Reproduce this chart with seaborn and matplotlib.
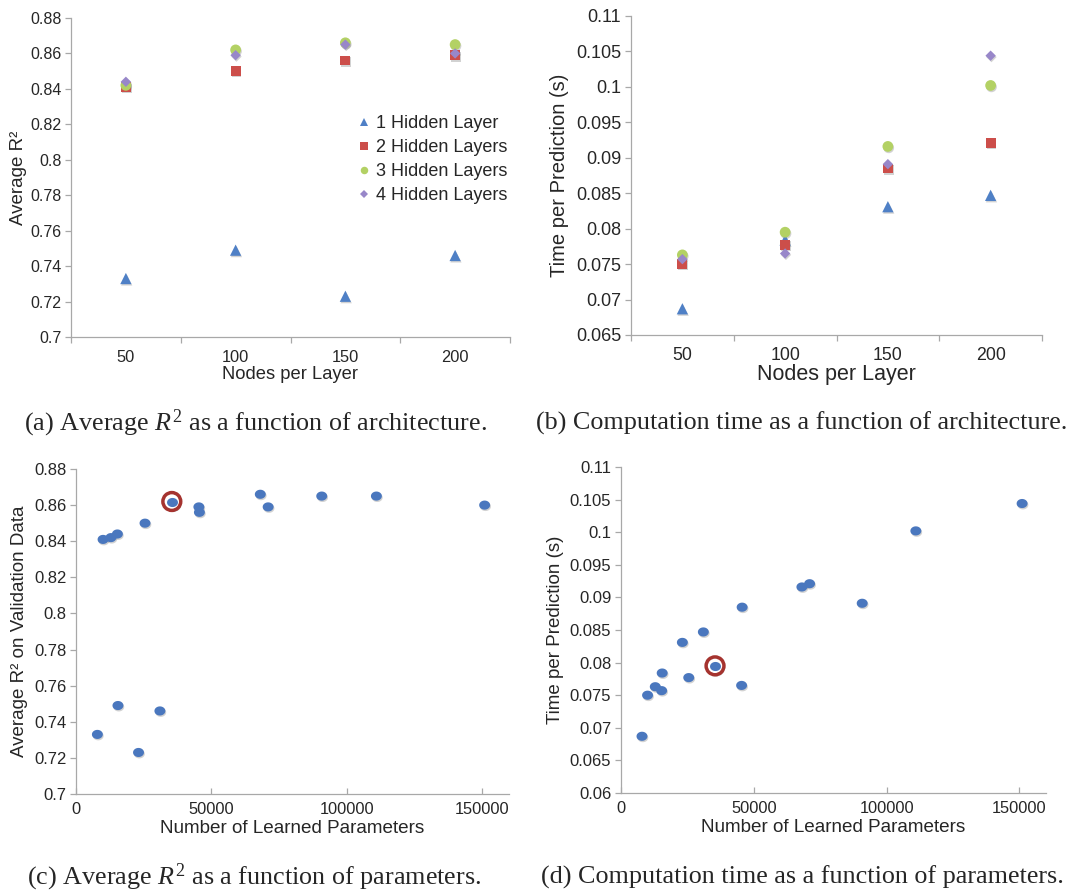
import numpy as np
import pandas as pd
import matplotlib
matplotlib.use("Agg")
import matplotlib.pyplot as plt
import matplotlib.patheffects as pe
from matplotlib.lines import Line2D
from matplotlib.path import Path
from matplotlib.ticker import FixedLocator, FuncFormatter
import seaborn as sns

# ---- data -------------------------------------------------------------
nodes = ["50", "100", "150", "200"]
layers = ["1 Hidden Layer", "2 Hidden Layers", "3 Hidden Layers", "4 Hidden Layers"]

r2_1 = [0.733, 0.749, 0.723, 0.746]
r2_2 = [0.841, 0.850, 0.856, 0.859]
r2_3 = [0.842, 0.862, 0.866, 0.865]
r2_4 = [0.844, 0.859, 0.865, 0.860]

time_1 = [0.0687, 0.0784, 0.0831, 0.0847]
time_2 = [0.0750, 0.0777, 0.0885, 0.0921]
time_3 = [0.0763, 0.0795, 0.0916, 0.1002]
time_4 = [0.0757, 0.0765, 0.0891, 0.1044]

params_1 = [7900, 15500, 23100, 31000]
params_2 = [10000, 25500, 45600, 71000]
params_3 = [12900, 35400, 68100, 111000]
params_4 = [15300, 45400, 90800, 151000]

# chosen architecture: 3 hidden layers, 100 nodes per layer
chosen_layers = "3 Hidden Layers"
chosen_nodes = "100"

r2_ticks = [0.70, 0.72, 0.74, 0.76, 0.78, 0.80, 0.82, 0.84, 0.86, 0.88]
time_ticks_b = [0.065, 0.07, 0.075, 0.08, 0.085, 0.09, 0.095, 0.1, 0.105, 0.11]
time_ticks_d = [0.06] + time_ticks_b
param_ticks = [0, 50000, 100000, 150000]

captions = [
    "(a) Average $R^2$ as a function of architecture.",
    "(b) Computation time as a function of architecture.",
    "(c) Average $R^2$ as a function of parameters.",
    "(d) Computation time as a function of parameters.",
]

# ---- long-form table --------------------------------------------------
rows = []
for lab, r2s, ts, ps in zip(layers, [r2_1, r2_2, r2_3, r2_4],
                            [time_1, time_2, time_3, time_4],
                            [params_1, params_2, params_3, params_4]):
    for n, r, t, p in zip(nodes, r2s, ts, ps):
        rows.append({"layers": lab, "nodes": n, "r2": r, "time": t, "params": p})
df = pd.DataFrame(rows)
df["chosen"] = (df["layers"] == chosen_layers) & (df["nodes"] == chosen_nodes)

# ---- style ------------------------------------------------------------
sns.set_style("white")
plt.rcParams["font.family"] = ["Liberation Sans", "DejaVu Sans"]
plt.rcParams["mathtext.fontset"] = "custom"
plt.rcParams["mathtext.rm"] = "Liberation Serif"
plt.rcParams["mathtext.it"] = "Liberation Serif:italic"
plt.rcParams["mathtext.bf"] = "Liberation Serif:bold"

palette = {layers[0]: "#4F80C6", layers[1]: "#CC4E4A",
           layers[2]: "#B3D164", layers[3]: "#9887C9"}
markers = {layers[0]: "^", layers[1]: "s", layers[2]: "o", layers[3]: "D"}
sizes = {layers[0]: 66, layers[1]: 50, layers[2]: 60, layers[3]: 28}
dot_color = "#4A77BE"
spine_color = "#A8A8A8"

W, H = 1068, 892
fig = plt.figure(figsize=(W / 100, H / 100), dpi=100)


def axes_px(left, right, top, bottom):
    return fig.add_axes([left / W, 1 - bottom / H, (right - left) / W, (bottom - top) / H])


shadow = [pe.SimplePatchShadow(offset=(0.6, -1.0), shadow_rgbFace="#808080", alpha=0.35),
          pe.Normal()]


def style_axes(ax, yticks, tick_size):
    for s in ["top", "right"]:
        ax.spines[s].set_visible(False)
    for s in ["left", "bottom"]:
        ax.spines[s].set_color(spine_color)
        ax.spines[s].set_linewidth(0.9)
    ax.set_ylim(yticks[0], yticks[-1])
    ax.yaxis.set_major_locator(FixedLocator(yticks))
    ax.yaxis.set_major_formatter(FuncFormatter(lambda v, p: f"{v:.3f}".rstrip("0").rstrip(".")))
    ax.tick_params(axis="y", which="major", direction="out", length=4, width=0.9,
                   color=spine_color, labelsize=tick_size, pad=3, left=True)
    ax.grid(False)


def categorical_x(ax, tick_size):
    ax.set_xlim(-0.5, len(nodes) - 0.5)
    ax.set_xticks(range(len(nodes)))
    ax.set_xticklabels(nodes)
    ax.set_xticks(np.arange(-0.5, len(nodes)), minor=True)
    ax.tick_params(axis="x", which="major", length=0, labelsize=tick_size, pad=9)
    ax.tick_params(axis="x", which="minor", direction="out", length=4, width=0.9,
                   color=spine_color, bottom=True)


# ---- (a) average R^2 vs nodes per layer -------------------------------
ax_a = axes_px(71, 510, 18, 337)
sns.scatterplot(data=df, x="nodes", y="r2", hue="layers", style="layers", size="layers",
                palette=palette, markers=markers, sizes=sizes, hue_order=layers,
                style_order=layers, size_order=layers, linewidth=0, legend=False, ax=ax_a)
for c in ax_a.collections:
    c.set_path_effects(shadow)
style_axes(ax_a, r2_ticks, 11.5)
categorical_x(ax_a, 11.8)
ax_a.set_xlabel("Nodes per Layer", fontsize=13.2, labelpad=1)
ax_a.set_ylabel("Average R²", fontsize=13.5, labelpad=2)

handles = [Line2D([], [], linestyle="none", marker=markers[l], color=palette[l],
                  markersize=(5.4 if markers[l] != "D" else 4.0), markeredgewidth=0)
           for l in layers]
ax_a.legend(handles, layers, loc="upper left", bbox_to_anchor=(0.655, 0.695),
            frameon=False, fontsize=13, handlelength=0.6, handletextpad=0.35,
            labelspacing=0.38, borderpad=0, borderaxespad=0)

# ---- (b) time vs nodes per layer ---------------------------------------
ax_b = axes_px(631, 1042, 16, 335)
sns.scatterplot(data=df, x="nodes", y="time", hue="layers", style="layers", size="layers",
                palette=palette, markers=markers, sizes=sizes, hue_order=layers,
                style_order=layers, size_order=layers, linewidth=0, legend=False, ax=ax_b)
for c in ax_b.collections:
    c.set_path_effects(shadow)
style_axes(ax_b, time_ticks_b, 13)
categorical_x(ax_b, 12.8)
ax_b.set_xlabel("Nodes per Layer", fontsize=15.5, labelpad=0)
ax_b.set_ylabel("Time per Prediction (s)", fontsize=14.5, labelpad=5)

# ---- slightly wide dot marker for the parameter plots --------------------
theta = np.linspace(0, 2 * np.pi, 60)
ellipse = Path(np.column_stack([1.2 * np.cos(theta), np.sin(theta)]), closed=True)


def param_panel(ax, ycol, yticks, ylabel):
    sns.scatterplot(data=df, x="params", y=ycol, color=dot_color, marker=ellipse, s=62,
                    linewidth=0, legend=False, ax=ax)
    pick = df[df["chosen"]]
    ring = ax.scatter(pick["params"], pick[ycol], s=165, facecolor="white",
                      edgecolor="#A5332F", linewidth=2.5, zorder=3)
    ring.set_path_effects([pe.SimplePatchShadow(offset=(0.8, -1.2), shadow_rgbFace="#606060",
                                                alpha=0.45), pe.Normal()])
    ax.scatter(pick["params"], pick[ycol], s=62, marker=ellipse, color=dot_color,
               linewidth=0, zorder=4)
    for c in ax.collections[:1]:
        c.set_path_effects(shadow)
    style_axes(ax, yticks, 12)
    ax.set_xlim(0, 160000)
    ax.xaxis.set_major_locator(FixedLocator(param_ticks))
    ax.xaxis.set_major_formatter(FuncFormatter(lambda v, p: f"{int(v)}"))
    ax.tick_params(axis="x", which="major", direction="in", length=4, width=0.9,
                   color=spine_color, labelsize=11.8, pad=6, bottom=True)
    ax.set_xlabel("Number of Learned Parameters", fontsize=13.6, labelpad=2)
    ax.set_ylabel(ylabel, fontsize=13.5, labelpad=4)


ax_c = axes_px(76, 509, 469, 794)
param_panel(ax_c, "r2", r2_ticks, "Average R² on Validation Data")

ax_d = axes_px(621, 1046, 467, 793)
param_panel(ax_d, "time", time_ticks_d, "Time per Prediction (s)")

# ---- captions ------------------------------------------------------------
cap_pos = [(255, 423), (802, 423), (254, 877), (802, 877)]
for (cx, cy), txt in zip(cap_pos, captions):
    fig.text(cx / W, 1 - cy / H, txt, ha="center", va="center", fontsize=18.8,
             family=["Liberation Serif", "DejaVu Serif"])

fig.savefig("out.png", dpi=100)
